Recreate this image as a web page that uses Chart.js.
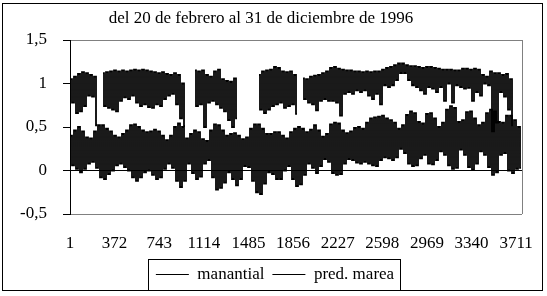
<!DOCTYPE html>
<html>
<head>
<meta charset="utf-8">
<script src="https://cdn.jsdelivr.net/npm/chart.js@4"></script>
<style>
  body { margin: 0; background: #fff; }
</style>
</head>
<body>
<canvas id="chart" width="547" height="296"></canvas>
<script>
// horizontal range (sample numbers) and tick labels
const xFirst = 1;
const xLast = 3760;
const xTicks = [1, 372, 743, 1114, 1485, 1856, 2227, 2598, 2969, 3340, 3711];
const yTicks = [-0.5, 0, 0.5, 1, 1.5];

// envelopes, one value per slice of the record (null = no data)
const manantialAlto = [
  1.05, 1.08, 1.11, 1.13, 1.12, 1.10, 1.08, null, 1.12, 1.13,
  1.14, 1.15, 1.14, 1.15, 1.14, 1.15, 1.16, 1.15, 1.16, 1.15,
  1.14, 1.13, 1.12, 1.13, 1.11, 1.10, 1.12, 1.10, 1.00, null,
  null, 1.15, 1.14, 1.15, 1.10, 1.08, 1.14, 1.16, 1.05, 1.03,
  1.02, 1.06, null, null, null, null, null, 1.10, 1.14, 1.15,
  1.16, 1.19, 1.18, 1.14, 1.13, 1.14, 1.10, null, 1.06, 1.05,
  1.08, 1.09, 1.10, 1.12, 1.14, 1.18, 1.19, 1.17, 1.16, 1.15,
  1.15, 1.14, 1.14, 1.13, 1.14, 1.13, 1.14, 1.14, 1.16, 1.18,
  1.19, 1.21, 1.23, 1.23, 1.21, 1.20, 1.20, 1.19, 1.18, 1.19,
  1.19, 1.18, 1.17, 1.16, 1.16, 1.16, 1.15, 1.15, 1.17, 1.17,
  1.16, 1.17, 1.16, 1.10, 1.08, 1.14, 1.12, 1.12, 1.10, 1.11,
  1.05, null, null
];
const manantialBajo = [
  0.78, 0.66, 0.68, 0.74, 0.86, 0.85, 0.52, null, 0.74, 0.72,
  0.70, 0.68, 0.80, 0.84, 0.82, 0.86, 0.78, 0.74, 0.76, 0.73,
  0.72, 0.76, 0.74, 0.82, 0.86, 0.88, 0.76, 0.60, 0.51, null,
  null, 0.74, 0.76, 0.50, 0.78, 0.80, 0.76, 0.72, 0.68, 0.58,
  0.50, 0.60, null, null, null, null, null, 0.70, 0.66, 0.70,
  0.74, 0.76, 0.78, 0.72, 0.74, 0.76, 0.65, null, 0.82, 0.78,
  0.76, 0.69, 0.80, 0.82, 0.80, 0.80, 0.78, 0.63, 0.88, 0.90,
  0.88, 0.92, 0.90, 0.92, 0.86, 0.82, 0.88, 0.76, 0.98, 0.96,
  0.98, 1.04, 1.12, 1.12, 1.04, 0.98, 0.96, 0.92, 0.88, 0.96,
  0.94, 0.90, 0.96, 0.80, 1.00, 0.78, 0.98, 0.96, 0.94, 0.95,
  0.80, 0.90, 0.86, 1.00, 0.98, 0.45, 0.55, 0.90, 0.85, 0.70,
  0.52, null, null
];
const mareaAlta = [
  0.40, 0.46, 0.50, 0.45, 0.38, 0.37, 0.45, 0.52, 0.52, 0.48,
  0.45, 0.40, 0.38, 0.42, 0.46, 0.52, 0.53, 0.50, 0.46, 0.44,
  0.45, 0.47, 0.45, 0.40, 0.35, 0.40, 0.50, 0.54, 0.50, 0.37,
  0.42, 0.46, 0.44, 0.36, 0.34, 0.46, 0.53, 0.52, 0.46, 0.40,
  0.42, 0.43, 0.40, 0.36, 0.38, 0.48, 0.53, 0.53, 0.48, 0.42,
  0.42, 0.44, 0.44, 0.40, 0.37, 0.44, 0.48, 0.50, 0.48, 0.44,
  0.47, 0.52, 0.46, 0.39, 0.42, 0.53, 0.55, 0.54, 0.46, 0.43,
  0.45, 0.49, 0.50, 0.48, 0.55, 0.60, 0.61, 0.62, 0.63, 0.60,
  0.58, 0.55, 0.48, 0.52, 0.64, 0.68, 0.66, 0.56, 0.54, 0.65,
  0.66, 0.60, 0.50, 0.55, 0.70, 0.74, 0.72, 0.56, 0.58, 0.67,
  0.68, 0.60, 0.52, 0.55, 0.66, 0.70, 0.68, 0.56, 0.55, 0.63,
  0.63, 0.58, 0.50
];
const mareaBaja = [
  0.06, 0.02, -0.02, 0.02, 0.08, 0.10, 0.03, -0.08, -0.10, -0.04,
  0.00, 0.06, 0.08, 0.04, 0.00, -0.08, -0.12, -0.08, -0.02, 0.00,
  -0.05, -0.10, -0.08, 0.02, 0.08, 0.03, -0.12, -0.19, -0.12, 0.08,
  -0.03, -0.10, -0.07, 0.08, 0.12, -0.08, -0.22, -0.20, -0.14, -0.02,
  -0.10, -0.17, -0.10, 0.05, 0.04, -0.12, -0.25, -0.27, -0.15, -0.02,
  -0.04, -0.10, -0.10, 0.00, 0.05, -0.10, -0.18, -0.16, -0.05, 0.08,
  0.03, -0.03, 0.05, 0.13, 0.10, -0.03, -0.05, -0.04, 0.08, 0.13,
  0.12, 0.09, 0.08, 0.10, 0.08, 0.06, 0.05, 0.12, 0.15, 0.14,
  0.12, 0.15, 0.25, 0.20, 0.08, 0.05, 0.06, 0.14, 0.18, 0.08,
  0.07, 0.12, 0.22, 0.18, 0.06, 0.02, 0.03, 0.24, 0.18, 0.04,
  0.01, 0.08, 0.22, 0.18, 0.04, -0.05, -0.02, 0.18, 0.20, 0.00,
  -0.03, 0.02, 0.03
];

// each slice becomes a high and a low point so the trace swings like the dense record
function zigzag(alto, bajo) {
  const n = alto.length * 2;
  const step = (xLast - xFirst) / n;
  const pts = [];
  alto.forEach((hi, k) => {
    pts.push({ x: xFirst + (2 * k + 0.5) * step, y: hi });
    pts.push({ x: xFirst + (2 * k + 1.5) * step, y: bajo[k] });
  });
  return pts;
}

const font = { family: 'Liberation Serif', size: 17, weight: 'normal' };

// frame of the chart, grey plot border and box round the legend
const framePlugin = {
  id: 'frame',
  afterLayout(chart) {
    chart.legend.left += 14;
    chart.legend.right += 14;
  },
  beforeDatasetsDraw(chart) {
    const { ctx, chartArea: a } = chart;
    ctx.save();
    ctx.strokeStyle = '#808080';
    ctx.lineWidth = 1;
    ctx.beginPath();
    ctx.moveTo(Math.round(a.right) + 0.5, a.top);
    ctx.lineTo(Math.round(a.right) + 0.5, a.bottom);
    ctx.stroke();
    ctx.restore();
  },
  afterDraw(chart) {
    const { ctx } = chart;
    ctx.save();
    ctx.strokeStyle = '#000';
    ctx.lineWidth = 1;
    ctx.strokeRect(2.5, 3.5, 540, 287);
    const boxes = chart.legend.legendHitBoxes;
    if (boxes.length) {
      const first = boxes[0], last = boxes[boxes.length - 1];
      const l = Math.round(first.left - 8) + 0.5;
      const r = Math.round(last.left + last.width + 6) + 0.5;
      const t = Math.round(first.top - 7) + 0.5;
      ctx.strokeRect(l, t, r - l, 290.5 - t);
    }
    ctx.restore();
  }
};

new Chart(document.getElementById('chart'), {
  type: 'line',
  data: {
    datasets: [
      {
        label: 'manantial',
        data: zigzag(manantialAlto, manantialBajo),
        borderColor: '#000',
        backgroundColor: '#000',
        borderWidth: 1.8,
        stepped: 'middle',
        pointRadius: 0,
        spanGaps: false
      },
      {
        label: 'pred. marea',
        data: zigzag(mareaAlta, mareaBaja),
        borderColor: '#000',
        backgroundColor: '#000',
        borderWidth: 1.8,
        stepped: 'middle',
        pointRadius: 0
      }
    ]
  },
  options: {
    responsive: false,
    animation: false,
    layout: { padding: { left: 0, right: 25, top: 0, bottom: 3 } },
    scales: {
      x: {
        type: 'linear',
        min: xFirst,
        max: xLast,
        afterBuildTicks: s => { s.ticks = xTicks.map(v => ({ value: v })); },
        afterFit: s => { s.paddingLeft = 0; s.paddingRight = 0; s.height = 44; },
        grid: { display: false, drawTicks: false },
        border: { display: false },
        ticks: {
          font, color: '#000', padding: 19, maxRotation: 0, autoSkip: false,
          callback: v => String(v)
        }
      },
      y: {
        min: -0.5,
        max: 1.5,
        afterBuildTicks: s => { s.ticks = yTicks.map(v => ({ value: v })); },
        afterFit: s => { s.width = 70; },
        grid: {
          color: c => c.tick.value === 0 ? '#000' : (c.tick.value === 1.5 || c.tick.value === -0.5 ? '#808080' : 'rgba(0,0,0,0)'),
          tickColor: '#000',
          tickLength: 7
        },
        border: { display: true, color: '#000' },
        ticks: {
          font, color: '#000', padding: 16,
          callback: v => String(v).replace('.', ',')
        }
      }
    },
    plugins: {
      title: {
        display: true,
        text: 'del 20 de febrero al 31 de diciembre de 1996',
        font, color: '#000',
        padding: { top: 8, bottom: 11.6 }
      },
      legend: {
        position: 'bottom',
        labels: {
          font, color: '#000',
          usePointStyle: true,
          pointStyle: 'line',
          pointStyleWidth: 33,
          padding: 8,
          generateLabels: chart => Chart.defaults.plugins.legend.labels.generateLabels(chart)
            .map(item => ({ ...item, lineWidth: 1 }))
        }
      },
      tooltip: { enabled: false }
    }
  },
  plugins: [framePlugin]
});
</script>
</body>
</html>
